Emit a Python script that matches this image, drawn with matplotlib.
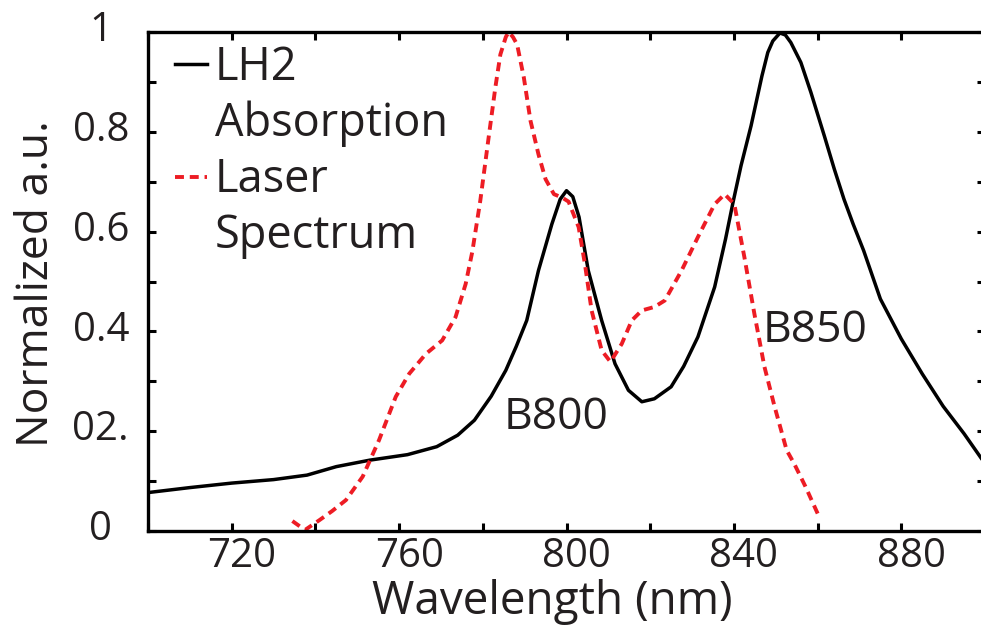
import matplotlib
matplotlib.use("Agg")
import matplotlib.pyplot as plt
from matplotlib.lines import Line2D
from matplotlib.transforms import ScaledTranslation

# ---------------- data ----------------
abs_wl = [700, 710, 720, 730, 738, 745, 753, 762, 769, 774, 778, 782, 785.5, 788,
          790.5, 793.3, 796.5, 798.5, 800, 801.5, 803, 805.2, 808.4, 811.6, 814.8,
          818, 821, 825, 828, 831.4, 835.4, 838, 839.8, 841.7, 844.1, 846.7, 848.1,
          849.3, 851, 852.3, 853.6, 856, 858.4, 861.6, 864, 866.3, 868.5, 871, 875,
          880, 885, 890, 895, 900]
abs_val = [0.077, 0.087, 0.096, 0.103, 0.112, 0.129, 0.142, 0.153, 0.169, 0.192,
           0.222, 0.27, 0.322, 0.37, 0.422, 0.522, 0.615, 0.665, 0.682, 0.67, 0.629,
           0.522, 0.422, 0.335, 0.282, 0.259, 0.265, 0.289, 0.33, 0.389, 0.489, 0.585,
           0.659, 0.732, 0.812, 0.912, 0.959, 0.982, 0.998, 0.994, 0.979, 0.939, 0.879,
           0.792, 0.725, 0.665, 0.615, 0.562, 0.465, 0.385, 0.315, 0.25, 0.195, 0.135]

laser_wl = [734.5, 737.5, 741, 744, 747.3, 751.3, 755.2, 759.2, 762.4, 766.4, 770.3,
            773.5, 775.9, 777.5, 779.4, 781.4, 783, 784.2, 785.5, 786.2, 787.2, 788.2,
            789.8, 791.4, 793.3, 795, 797, 799, 800.5, 802.9, 804.4, 806, 808.4, 810.5,
            813.2, 815.6, 818, 821, 823.5, 827.5, 831.4, 835.4, 837.8, 840.1, 842.5,
            844.9, 847.3, 849.7, 852.6, 854.4, 857.1, 860.5]
laser_val = [0.02, 0.002, 0.022, 0.04, 0.062, 0.109, 0.182, 0.269, 0.315, 0.355, 0.382,
             0.429, 0.495, 0.56, 0.662, 0.789, 0.889, 0.955, 0.99, 1.0, 0.99, 0.975,
             0.909, 0.822, 0.755, 0.705, 0.675, 0.668, 0.66, 0.609, 0.535, 0.442, 0.362,
             0.339, 0.375, 0.422, 0.442, 0.449, 0.462, 0.522, 0.589, 0.655, 0.675, 0.655,
             0.549, 0.435, 0.329, 0.25, 0.162, 0.135, 0.089, 0.026]

x_ticks = [720, 760, 800, 840, 880]
x_minor = [700, 740, 780, 820, 860, 900]
y_ticks = [0, 0.2, 0.4, 0.6, 0.8, 1.0]
y_ticklabels = ['0', '02.', '0.4', '0.6', '0.8', '1']
y_minor = [0.1, 0.3, 0.5, 0.7, 0.9]

series_labels = ['LH2', 'Absorption', 'Laser', 'Spectrum']
band_labels = ['B800', 'B850']
band_pos = [(797.6, 0.204), (859.5, 0.379)]

# ---------------- style ----------------
plt.rcParams['font.family'] = ['Open Sans', 'DejaVu Sans']
TXT = '#231f20'
RED = '#ed1c24'

fig = plt.figure(figsize=(9.81, 6.28), dpi=100)
W, H = 981, 628
ax = fig.add_axes([148 / W, 1 - 531 / H, (985 - 148) / W, (531 - 32) / H])

ax.plot(abs_wl, abs_val, color='black', lw=2.5, solid_capstyle='round',
        solid_joinstyle='round')
ax.plot(laser_wl, laser_val, color=RED, lw=2.8, dashes=(2.3, 1.5),
        dash_joinstyle='round')

ax.set_xlim(700, 900)
ax.set_ylim(0, 1)

for s in ax.spines.values():
    s.set_linewidth(2.4)
    s.set_color('black')

ax.set_xticks(x_ticks)
ax.set_xticks(x_minor, minor=True)
ax.set_yticks(y_ticks)
ax.set_yticklabels(y_ticklabels)
ax.set_yticks(y_minor, minor=True)
ax.tick_params(which='both', direction='in', length=6, width=2.2, color='black',
               top=True, right=True)
ax.tick_params(axis='both', which='major', labelsize=29, labelcolor=TXT)
ax.tick_params(axis='x', which='major', pad=4)
ax.tick_params(axis='y', which='major', pad=34)

for lab in ax.get_yticklabels():
    lab.set_ha('center')
    lab.set_transform(lab.get_transform() + ScaledTranslation(0, 6 / 100, fig.dpi_scale_trans))
for lab in ax.get_xticklabels():
    lab.set_transform(lab.get_transform() + ScaledTranslation(10 / 100, 0, fig.dpi_scale_trans))

ax.set_xlabel('Wavelength (nm)', fontsize=33, color=TXT)
ax.xaxis.set_label_coords(0.483, -0.096)
ax.set_ylabel('Normalized a.u.', fontsize=32, color=TXT)
ax.yaxis.set_label_coords(-0.106, 0.495)

for lab, (bx, by) in zip(band_labels, band_pos):
    ax.text(bx, by, lab, fontsize=32, color=TXT, ha='center', va='baseline')

handles = [Line2D([], [], color='black', lw=2.5),
           Line2D([], [], color='none'),
           Line2D([], [], color=RED, lw=2.8, dashes=(2.3, 1.5)),
           Line2D([], [], color='none')]
leg = ax.legend(handles, series_labels, loc='upper left',
                bbox_to_anchor=(175 / W, 1 - 45 / H), bbox_transform=fig.transFigure,
                frameon=False, fontsize=32.5, handlelength=0.7, handletextpad=0.18,
                borderpad=0, borderaxespad=0, labelspacing=0.22)
for t in leg.get_texts():
    t.set_color(TXT)

fig.savefig('out.png', dpi=100)
